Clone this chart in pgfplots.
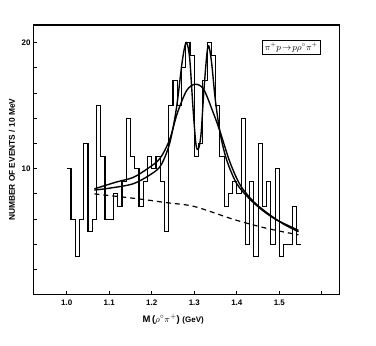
\documentclass[border=0pt]{standalone}
\usepackage{fontspec}
\setmainfont{Liberation Sans}
\usepackage{pgfplots}
\pgfplotsset{compat=1.18}
\begin{document}
\begin{tikzpicture}
\useasboundingbox (0,0) rectangle (376bp,346bp);
\begin{axis}[
    at={(33.3bp,51.3bp)}, anchor=south west,
    scale only axis,
    width=306bp, height=269.7bp,
    xmin=0.9214, xmax=1.641,
    ymin=0, ymax=21.4,
    axis line style={line width=1.6pt},
    tick align=inside,
    tick pos=left,
    major tick length=3.5bp,
    tick style={line width=0.9pt, black},
    xtick={1.0,1.1,1.2,1.3,1.4,1.5,1.6},
    xticklabels={1.0,1.1,1.2,1.3,1.4,1.5,},
    ytick={2,4,6,8,10,12,14,16,18,20},
    yticklabels={,,,,10,,,,,20},
    ticklabel style={font=\bfseries\fontsize{8}{9}\selectfont},
    /pgf/number format/assume math mode=true,
    xticklabel style={yshift=-2bp},
    yticklabel style={xshift=-1bp, inner sep=1.5pt},
    xlabel={\bfseries M\,($\rho^\circ\pi^+$) \footnotesize(GeV)},
    xlabel style={at={(axis description cs:0.457,-0.09)}, anchor=center, font=\fontsize{9.5}{10}\selectfont},
    ylabel={\bfseries NUMBER OF EVENTS / 10 MeV},
    ylabel style={at={(axis description cs:-0.07,0.5)}, anchor=center, font=\fontsize{8.4}{9}\selectfont},
]
% histogram, 10 MeV bins
\addplot[const plot, line width=1.1pt, black] coordinates {
(1.00,10)(1.01,6)(1.02,3)(1.03,6)(1.04,12)(1.05,5)(1.06,6)(1.07,15)(1.08,11)(1.09,6)
(1.10,6)(1.11,8)(1.12,7)(1.13,9)(1.14,14)(1.15,11)(1.16,10)(1.17,7)(1.18,9)(1.19,11)
(1.20,10)(1.21,11)(1.22,9)(1.23,5)(1.24,15)(1.25,17)(1.26,15)(1.27,18)(1.28,20)(1.29,19)
(1.30,11)(1.31,12)(1.32,17)(1.33,20)(1.34,19)(1.35,15)(1.36,11)(1.37,7)(1.38,8)(1.39,9)
(1.40,8)(1.41,14)(1.42,4)(1.43,9)(1.44,3)(1.45,12)(1.46,7)(1.47,9)(1.48,4)(1.49,10)
(1.50,3)(1.51,4)(1.52,4)(1.53,7)(1.54,4)(1.55,4)
};
% single resonance fit
\addplot[smooth, line width=1.4pt, black] coordinates {
(1.065,8.4)(1.118,8.95)(1.156,9.3)(1.190,10.0)(1.219,10.8)(1.242,12.3)(1.260,14.4)
(1.282,16.2)(1.302,16.7)(1.322,16.3)(1.345,14.4)(1.361,12.9)(1.384,10.5)(1.408,8.7)
(1.439,7.4)(1.471,6.5)(1.510,5.6)(1.545,5.0)
};
% double peak fit
\addplot[smooth, line width=1.4pt, black] coordinates {
(1.065,8.3)(1.100,8.45)(1.156,8.8)(1.200,9.6)(1.222,10.3)(1.242,12.0)(1.258,14.8)
(1.272,18.6)(1.281,20.0)(1.289,18.8)(1.297,14.8)(1.304,11.9)(1.310,11.6)(1.316,12.8)
(1.323,16.4)(1.332,19.7)(1.340,18.6)(1.350,15.3)(1.362,12.6)(1.377,10.6)(1.400,8.8)
(1.430,7.6)(1.460,6.7)(1.490,6.0)(1.520,5.5)(1.545,5.1)
};
% background
\addplot[smooth, line width=1.2pt, black, dash pattern=on 5bp off 4bp] coordinates {
(1.065,8.0)(1.170,7.6)(1.235,7.3)(1.300,7.0)(1.390,6.0)(1.454,5.4)(1.500,5.05)(1.545,4.75)
};
\node[draw, line width=0.8pt, inner sep=2.4pt, font=\fontsize{9}{10}\selectfont] at (axis cs:1.528,19.6)
  {$\pi^+p\!\rightarrow\!p\rho^\circ\pi^+$};
\end{axis}
\end{tikzpicture}
\end{document}
